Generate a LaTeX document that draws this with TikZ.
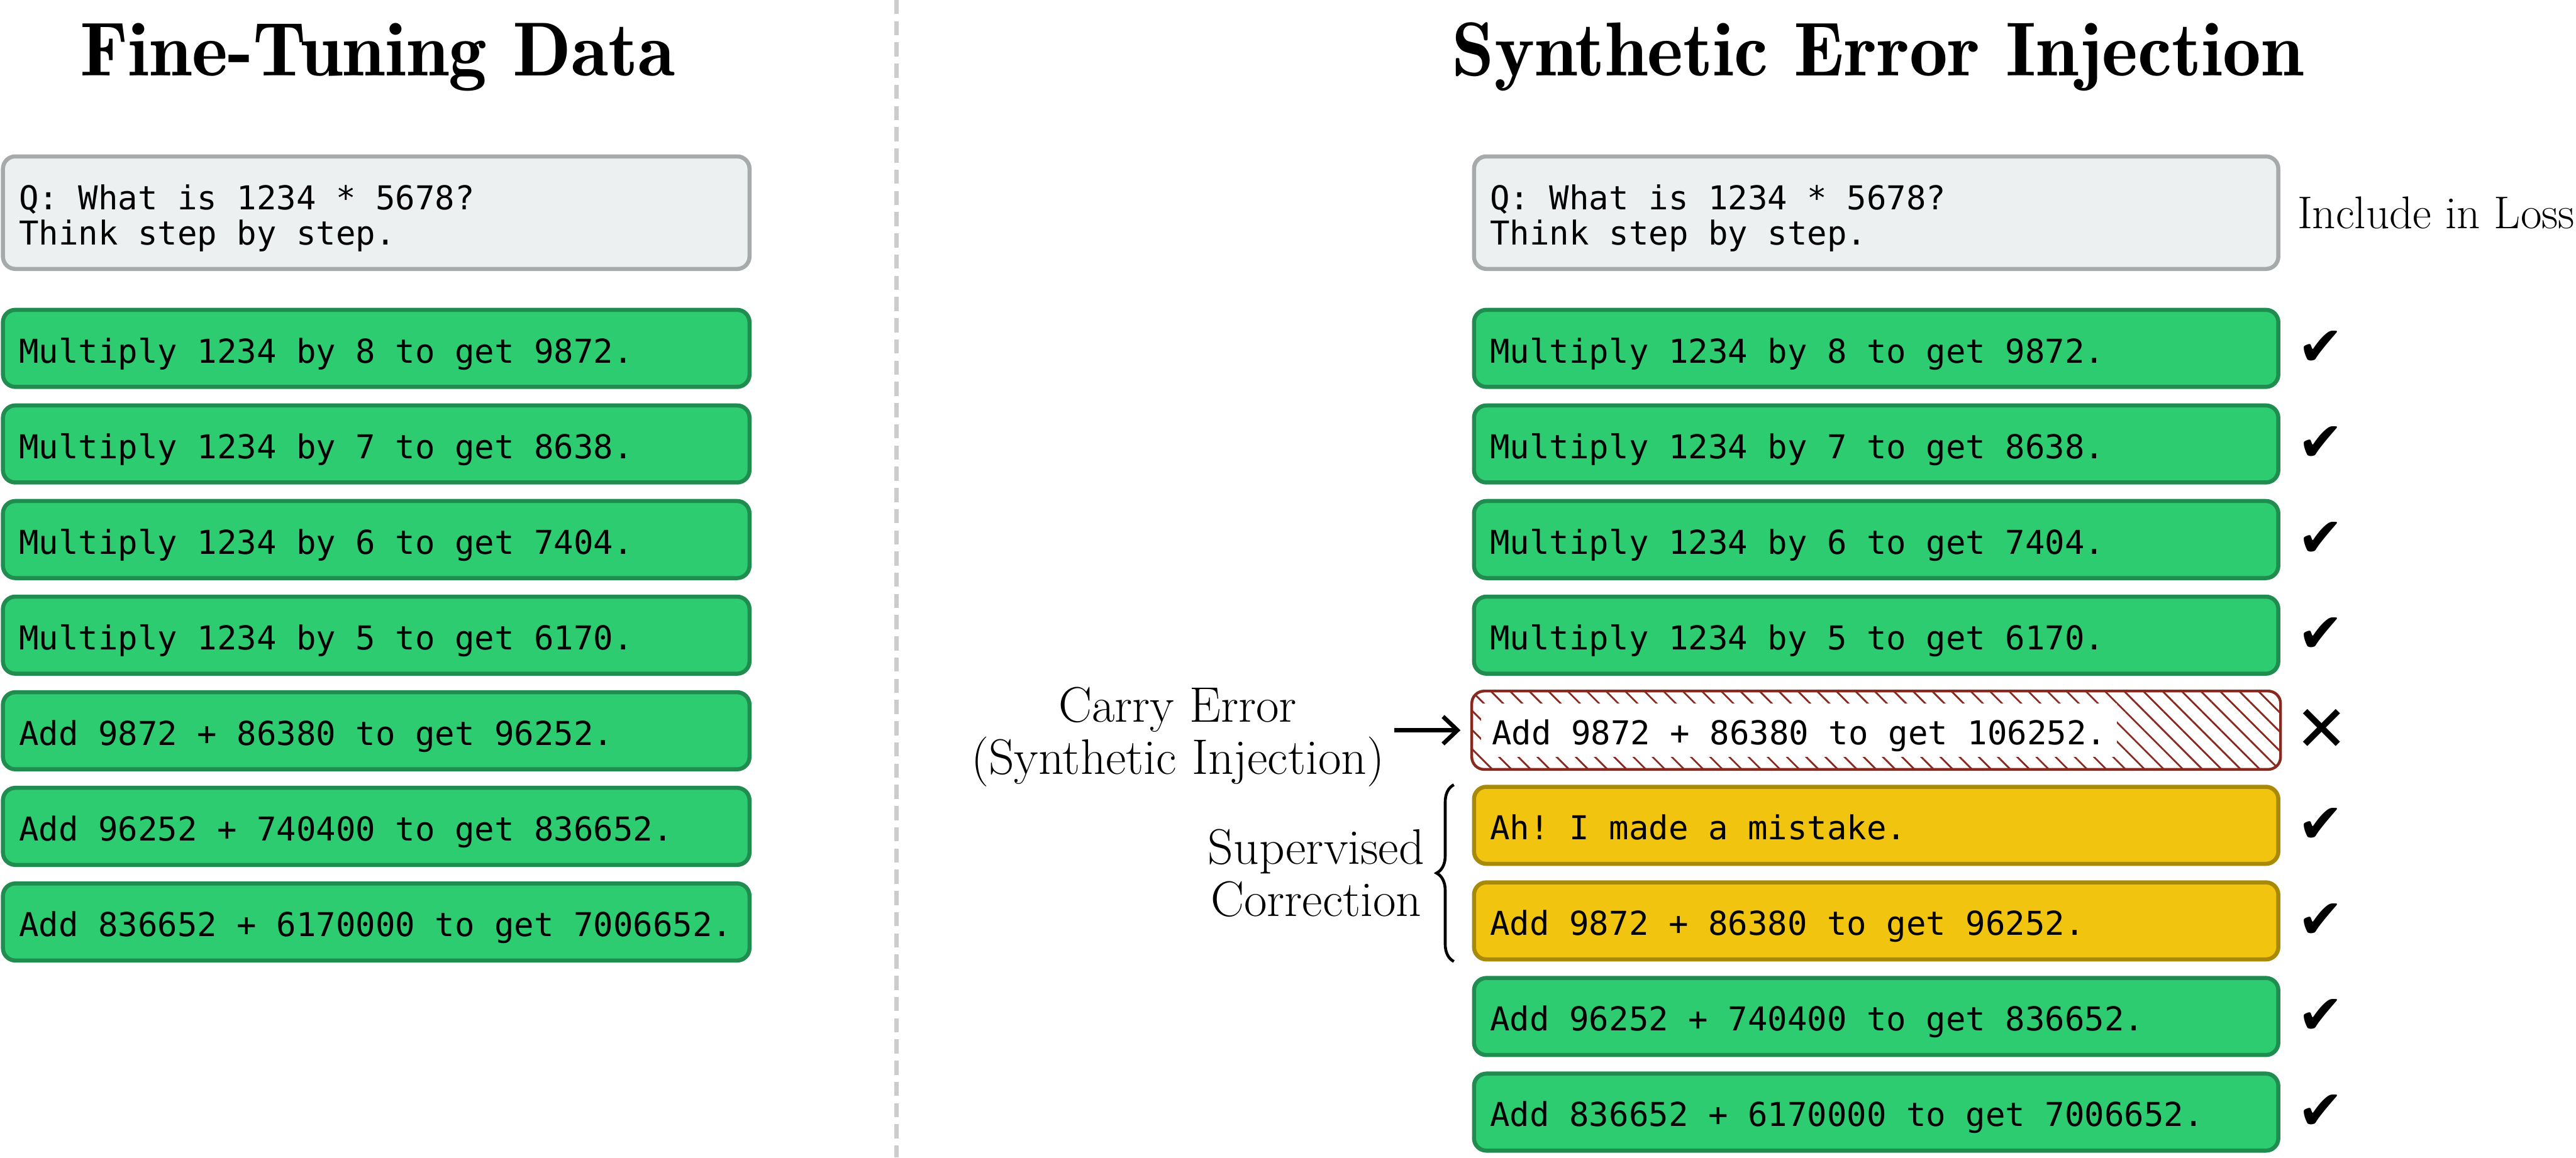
\documentclass[tikz,border=0pt]{standalone}
\usepackage{fontspec}
\setmonofont{DejaVu Sans Mono}
\newfontfamily\marksfont{DejaVu Sans}
\usetikzlibrary{arrows.meta, positioning, calc, patterns.meta, decorations.pathreplacing}
\definecolor{okfill}{RGB}{46,204,113}
\definecolor{okdraw}{RGB}{33,140,80}
\definecolor{fixfill}{RGB}{241,196,15}
\definecolor{fixdraw}{RGB}{169,138,8}
\definecolor{qfill}{RGB}{236,240,241}
\definecolor{qdraw}{RGB}{166,170,171}
\definecolor{errred}{RGB}{136,41,31}
\definecolor{divgray}{RGB}{204,204,204}

\begin{document}
\begin{tikzpicture}[>={Straight Barb[length=5pt,width=9.5pt]}, node distance=0.176cm,
    box/.style={rounded corners=4.3pt, line width=1.42pt, align=flush left, inner xsep=5.6pt, inner ysep=3pt,
      font=\fontsize{11.4}{12.2}\selectfont\ttfamily\frenchspacing},
    leftcol/.style={text width=247.4pt},
    rightcol/.style={text width=267.4pt},
    qbox/.style={box, draw=qdraw, fill=qfill, minimum height=39pt, text height=10.5pt, text depth=12.7pt},
    stepbox/.style={box, draw=okdraw, fill=okfill, minimum height=26.7pt, text height=10.5pt, text depth=0.5pt},
    fixbox/.style={stepbox, draw=fixdraw, fill=fixfill},
    errbox/.style={rounded corners=4.3pt, line width=0.97pt, draw=errred, minimum width=9.846cm, minimum height=27.15pt,
      pattern={Lines[angle=-45, distance=4.7pt, line width=0.6pt]}, pattern color=errred},
    errtext/.style={fill=white, inner sep=3.7pt, text height=10.5pt, text depth=0.5pt,
      font=\fontsize{11.4}{12.2}\selectfont\ttfamily\frenchspacing},
    ttl/.style={font=\fontsize{26.5}{30}\fontseries{b}\selectfont},
    lbl/.style={font=\fontsize{17.3}{18.1}\selectfont},
    tick/.style={font=\fontsize{19}{19}\marksfont, inner sep=0pt},
  ]
  \useasboundingbox (0,0) rectangle (31.36,-14.096);
  % Séparation des deux colonnes
  \coordinate (dtop) at (10.914,0);
  \coordinate (dbot) at (10.914,-14.096);
  \draw[divgray, line width=1.46pt, dash pattern=on 4.9pt off 2.45pt] (dtop) -- (dbot);
  % Titres
  \node[ttl, anchor=base] (tleft) at (4.6,-0.92) {Fine-Tuning Data};
  \node[ttl, anchor=base] (tright) at (22.86,-0.92) {Synthetic Error Injection};
  % Colonne gauche : données d'origine
  \node[qbox, leftcol] (lq) at (4.58,-2.59) {Q: What is 1234 * 5678?\\Think step by step.};
  \node[stepbox, leftcol, below=0.448cm of lq] (l1) {Multiply 1234 by 8 to get 9872.};
  \node[stepbox, leftcol, below=of l1] (l2) {Multiply 1234 by 7 to get 8638.};
  \node[stepbox, leftcol, below=of l2] (l3) {Multiply 1234 by 6 to get 7404.};
  \node[stepbox, leftcol, below=of l3] (l4) {Multiply 1234 by 5 to get 6170.};
  \node[stepbox, leftcol, below=of l4] (l5) {Add 9872 + 86380 to get 96252.};
  \node[stepbox, leftcol, below=of l5] (l6) {Add 96252 + 740400 to get 836652.};
  \node[stepbox, leftcol, below=of l6] (l7) {Add 836652 + 6170000 to get 7006652.};
  % Colonne droite : erreur injectée puis correction
  \node[qbox, rightcol] (rq) at (22.84,-2.59) {Q: What is 1234 * 5678?\\Think step by step.};
  \node[stepbox, rightcol, below=0.448cm of rq] (r1) {Multiply 1234 by 8 to get 9872.};
  \node[stepbox, rightcol, below=of r1] (r2) {Multiply 1234 by 7 to get 8638.};
  \node[stepbox, rightcol, below=of r2] (r3) {Multiply 1234 by 6 to get 7404.};
  \node[stepbox, rightcol, below=of r3] (r4) {Multiply 1234 by 5 to get 6170.};
  \node[errbox, below=of r4] (r5) {};
  \node[errtext, anchor=west] (r5t) at ([xshift=0.12cm]r5.west) {Add 9872 + 86380 to get 106252.};
  \node[fixbox, rightcol, below=of r5] (r6) {Ah! I made a mistake.};
  \node[fixbox, rightcol, below=of r6] (r7) {Add 9872 + 86380 to get 96252.};
  \node[stepbox, rightcol, below=of r7] (r8) {Add 96252 + 740400 to get 836652.};
  \node[stepbox, rightcol, below=of r8] (r9) {Add 836652 + 6170000 to get 7006652.};
  % Prise en compte dans la perte
  \node[lbl, font=\fontsize{15.9}{18.1}\selectfont, anchor=base west, inner sep=0pt] (incl) at ([xshift=0.2cm, yshift=-0.196cm]rq.east) {Include in Loss};
  \node[tick] (k1) at ([xshift=0.49cm]r1.east) {✔};
  \node[tick] (k2) at ([xshift=0.49cm]r2.east) {✔};
  \node[tick] (k3) at ([xshift=0.49cm]r3.east) {✔};
  \node[tick] (k4) at ([xshift=0.49cm]r4.east) {✔};
  \node[tick, font=\fontsize{22}{22}\marksfont] (k5) at ([xshift=0.49cm]r5.east) {✕};
  \node[tick] (k6) at ([xshift=0.49cm]r6.east) {✔};
  \node[tick] (k7) at ([xshift=0.49cm]r7.east) {✔};
  \node[tick] (k8) at ([xshift=0.49cm]r8.east) {✔};
  \node[tick] (k9) at ([xshift=0.49cm]r9.east) {✔};
  % Annotations à gauche
  \node[lbl, align=center, left=0.93cm of r5, yshift=-0.08cm] (carry) {Carry Error\\(Synthetic Injection)};
  \draw[->, line width=1.46pt, shorten >=3.6pt] (carry.east |- r5.west) -- (r5.west);
  \coordinate (bbot) at ([xshift=-0.22cm]r7.south west);
  \coordinate (btop) at ([xshift=-0.22cm]r6.north west);
  \coordinate (bmid) at ($(bbot)!0.5!(btop)$);
  \draw[decorate, decoration={brace, amplitude=6pt}, line width=1pt] (bbot) -- (btop);
  \node[lbl, align=center, left=0.236cm of bmid] (superv) {Supervised\\Correction};
\end{tikzpicture}
\end{document}
